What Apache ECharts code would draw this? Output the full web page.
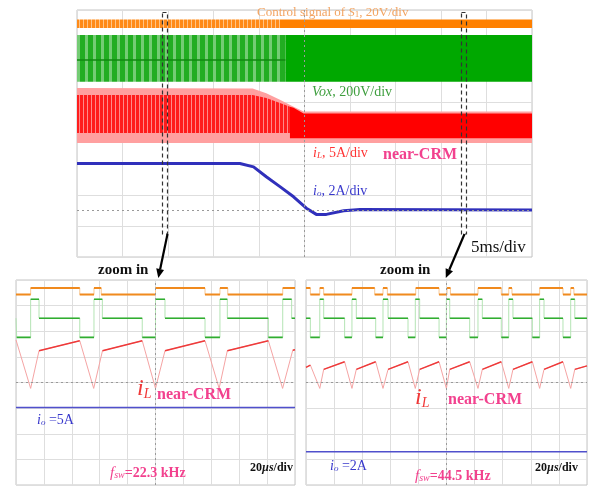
<!DOCTYPE html>
<html><head><meta charset="utf-8">
<script src="https://cdn.jsdelivr.net/npm/echarts@6/dist/echarts.min.js"></script>
<style>html,body{margin:0;padding:0;background:#fff}#c{width:589px;height:486px}</style>
</head><body><div id="c"></div>
<script>
// ===== Top scope: x in ms (5 ms/div), y in divisions =====
const orangeStripT = [0, 22.3], orangeStripHi = [7.69, 7.69], orangeStripLo = [7.42, 7.42];
const orangeSolidT = [22.3, 50], orangeSolidHi = [7.69, 7.69], orangeSolidLo = [7.42, 7.42];
const greenStripT = [0, 22.9], greenStripHi = [7.19, 7.19], greenStripLo = [5.68, 5.68];
const greenSolidT = [22.9, 50], greenSolidHi = [7.19, 7.19], greenSolidLo = [5.68, 5.68];
const greenMidT = [0, 22.9], greenMidV = [6.38, 6.38];
const redOuterT = [0, 19.3, 20.8, 22.3, 23.8, 24.9, 50];
const redOuterHi = [5.47, 5.46, 5.30, 5.09, 4.87, 4.71, 4.71];
const redOuterLo = [3.69, 3.69, 3.69, 3.69, 3.69, 3.69, 3.69];
const redStripT = [0, 19.3, 20.8, 22.3, 23.4];
const redStripHi = [5.25, 5.25, 5.15, 4.99, 4.87];
const redStripLo = [4.02, 4.02, 4.02, 4.02, 4.02];
const redSolidT = [23.4, 23.8, 24.9, 50];
const redSolidHi = [4.87, 4.83, 4.65, 4.65];
const redSolidLo = [3.85, 3.85, 3.85, 3.85];
const ioTopT = [0, 17.9, 19.4, 20.8, 22.3, 23.8, 25.2, 26.3, 27.4, 29.3, 31.1, 50];
const ioTopV = [3.03, 3.03, 2.92, 2.60, 2.28, 1.95, 1.58, 1.38, 1.38, 1.50, 1.54, 1.52];
const topRefLevel = 1.52;

// ===== Bottom-left zoom: x in us (20 us/div), y in divisions =====
const L_OH = 7.69, L_OL = 7.43;              // orange high/low
const G_T = 7.25, G_M = 6.51, G_L = 5.76;    // green levels
const leftOrangeT = [0, 10.5, 45.7, 55.9, 61.1, 100, 135.5, 146.2, 151.8, 191.2, 200];
const leftOrangeV = [L_OL, L_OH, L_OL, L_OH, L_OL, L_OH, L_OL, L_OH, L_OL, L_OH, L_OH];
const leftGreenT = [0, 0.5, 10.5, 16.5, 45.7, 55.9, 61.9, 90.5, 100, 106.8, 135.5, 146.2, 151.5, 180.9, 191.2, 197.6, 200];
const leftGreenV = [G_M, G_L, G_T, G_M, G_L, G_T, G_M, G_L, G_T, G_M, G_L, G_T, G_M, G_L, G_T, G_M, G_M];
const leftRedT = [0, 10.5, 16.5, 45.7, 55.7, 62.0, 90.5, 100, 106.8, 135.5, 145.6, 151.5, 180.9, 191.1, 198.4, 200];
const leftRedV = [5.66, 3.77, 5.24, 5.63, 3.77, 5.24, 5.63, 3.77, 5.24, 5.63, 3.77, 5.24, 5.63, 3.77, 5.26, 5.28];
const leftIoT = [0, 200], leftIoV = [3.02, 3.02];

// ===== Bottom-right zoom =====
const rightOrangeT = [0, 3.1, 9.8, 12.6, 32.7, 48.9, 54.8, 57.9, 78.1, 94.7, 100.4, 102.8, 122.4, 139, 144.3, 146.6, 166.3, 182.9, 188.4, 190.7, 200];
const rightOrangeV = [L_OH, L_OL, L_OH, L_OL, L_OH, L_OL, L_OH, L_OL, L_OH, L_OL, L_OH, L_OL, L_OH, L_OL, L_OH, L_OL, L_OH, L_OL, L_OH, L_OL, L_OL];
const rightGreenT = [0, 3.1, 9.8, 12.6, 27.5, 32.7, 35.8, 49.6, 54.8, 58.4, 72.6, 77.8, 80.9, 94.7, 99.9, 102.3, 116.5, 122.4, 125.5, 139, 144.3, 147.3, 161.1, 166.3, 169.4, 182.9, 188.4, 191.3, 200];
const rightGreenV = [G_M, G_L, G_T, G_M, G_L, G_T, G_M, G_L, G_T, G_M, G_L, G_T, G_M, G_L, G_T, G_M, G_L, G_T, G_M, G_L, G_T, G_M, G_L, G_T, G_M, G_L, G_T, G_M, G_M];
const rightRedT = [0, 3.1, 9.8, 12.6, 27.5, 32.7, 35.8, 49.6, 54.8, 58.4, 72.6, 77.8, 80.9, 94.7, 99.9, 102.3, 116.5, 122.4, 125.5, 139, 144.3, 147.3, 161.1, 166.3, 169.4, 182.9, 188.4, 191.3, 200];
const rightRedV = [4.59, 4.68, 3.77, 4.51, 4.81, 3.77, 4.51, 4.81, 3.77, 4.51, 4.81, 3.77, 4.51, 4.81, 3.77, 4.51, 4.81, 3.77, 4.51, 4.81, 3.77, 4.51, 4.81, 3.77, 4.51, 4.81, 3.77, 4.51, 4.65];
const rightIoT = [0, 200], rightIoV = [1.30, 1.30];

// ===== rendering =====
const SERIF = '"Liberation Serif","DejaVu Serif",serif';
function pat(stripes) {
  const w = stripes.reduce((s, a) => s + a[0], 0);
  const c = document.createElement('canvas'); c.width = w; c.height = 4;
  const g = c.getContext('2d'); let x = 0;
  for (const [n, col] of stripes) { g.fillStyle = col; g.fillRect(x, 0, n, 4); x += n; }
  return { image: c, repeat: 'repeat' };
}
const zip = (T, V) => T.map((t, i) => [t, V[i]]);
function band(T, hi, lo, fill) {
  return { type: 'custom', xAxisIndex: 0, yAxisIndex: 0, silent: true, clip: true,
    data: T.map((t, i) => [t, lo[i], hi[i]]), encode: { x: 0, y: [1, 2] },
    renderItem: (params, api) => {
      if (params.dataIndex !== 0) return null;
      const pts = [];
      for (let i = 0; i < T.length; i++) pts.push(api.coord([T[i], hi[i]]));
      for (let i = T.length - 1; i >= 0; i--) pts.push(api.coord([T[i], lo[i]]));
      return { type: 'polygon', shape: { points: pts }, style: { fill, stroke: null } };
    } };
}
// dark overlay segments drawn as a line series with breaks ('-')
function segLine(gi, segs, color, width) {
  const data = [];
  for (const s of segs) { data.push([s[0], s[1]], [s[2], s[3]], [s[2], '-']); }
  return { type: 'line', xAxisIndex: gi, yAxisIndex: gi, symbol: 'none', silent: true, connectNulls: false,
    lineStyle: { color, width }, data };
}
function stepTrace(gi, T, V, light, dark, w) {
  const segs = [];
  for (let i = 0; i < T.length - 1; i++) segs.push([T[i], V[i], T[i + 1], V[i]]);
  return [
    { type: 'line', xAxisIndex: gi, yAxisIndex: gi, step: 'end', symbol: 'none', silent: true, lineStyle: { color: light, width: 1 }, data: zip(T, V) },
    segLine(gi, segs, dark, w)
  ];
}
function rampTrace(gi, T, V, light, dark) {
  const segs = [];
  for (let i = 0; i < T.length - 1; i++) {
    const s = (V[i + 1] - V[i]) / (T[i + 1] - T[i]);
    if (s >= 0 && s < 0.06) segs.push([T[i], V[i], T[i + 1], V[i + 1]]);
  }
  return [
    { type: 'line', xAxisIndex: gi, yAxisIndex: gi, symbol: 'none', silent: true, lineStyle: { color: light, width: 1 }, data: zip(T, V) },
    segLine(gi, segs, dark, 1.4)
  ];
}
function refLines(gi, xv, yv) {
  return { type: 'line', xAxisIndex: gi, yAxisIndex: gi, z: 1, symbol: 'none', silent: true, data: [],
    markLine: { silent: true, symbol: 'none', animation: false, label: { show: false },
      lineStyle: { type: [2, 3], color: '#999', width: 1 }, data: [{ xAxis: xv }, { yAxis: yv }] } };
}
function axis(gi, max, interval) {
  return { gridIndex: gi, type: 'value', min: 0, max, interval,
    axisLabel: { show: false }, axisTick: { show: false }, axisLine: { show: false },
    splitLine: { show: true, lineStyle: { color: '#dedede', width: 1 } } };
}

const series = [
  refLines(0, 25, topRefLevel),
  band(orangeStripT, orangeStripHi, orangeStripLo, pat([[3, '#ff8a18'], [1, '#ffc486']])),
  band(orangeSolidT, orangeSolidHi, orangeSolidLo, '#ff8000'),
  band(greenStripT, greenStripHi, greenStripLo, pat([[5, '#22ad22'], [3, '#74cc74']])),
  band(greenSolidT, greenSolidHi, greenSolidLo, '#00a800'),
  { type: 'line', xAxisIndex: 0, yAxisIndex: 0, symbol: 'none', silent: true, lineStyle: { color: '#118a11', width: 1.5 }, data: zip(greenMidT, greenMidV) },
  band(redOuterT, redOuterHi, redOuterLo, '#ffa0a0'),
  band(redStripT, redStripHi, redStripLo, pat([[3, '#ff1c1c'], [1, '#ff8a8a']])),
  band(redSolidT, redSolidHi, redSolidLo, '#ff0000'),
  { type: 'line', xAxisIndex: 0, yAxisIndex: 0, symbol: 'none', silent: true, lineStyle: { color: '#3030bb', width: 3 }, data: zip(ioTopT, ioTopV) },

  refLines(1, 100, 4),
  ...stepTrace(1, leftOrangeT, leftOrangeV, '#f9c894', '#f08a1e', 2),
  ...stepTrace(1, leftGreenT, leftGreenV, '#b4e4b4', '#30ad30', 1.6),
  ...rampTrace(1, leftRedT, leftRedV, '#f5a4a4', '#ee3a3a'),
  { type: 'line', xAxisIndex: 1, yAxisIndex: 1, symbol: 'none', silent: true, lineStyle: { color: '#5050cc', width: 1.5 }, data: zip(leftIoT, leftIoV) },

  refLines(2, 100, 4),
  ...stepTrace(2, rightOrangeT, rightOrangeV, '#f9c894', '#f08a1e', 2),
  ...stepTrace(2, rightGreenT, rightGreenV, '#b4e4b4', '#30ad30', 1.6),
  ...rampTrace(2, rightRedT, rightRedV, '#f5a4a4', '#ee3a3a'),
  { type: 'line', xAxisIndex: 2, yAxisIndex: 2, symbol: 'none', silent: true, lineStyle: { color: '#5050cc', width: 1.5 }, data: zip(rightIoT, rightIoV) }
];

function txt(x, y, text, base, rich) {
  return { type: 'text', x, y, z: 100, silent: true,
    style: Object.assign({ text, align: 'left', verticalAlign: 'middle', fontFamily: SERIF, rich: rich || {} }, base) };
}
function sub(size, fill, italic) { return { fontSize: size, fill, fontFamily: SERIF, fontStyle: italic ? 'italic' : 'normal', verticalAlign: 'bottom', lineHeight: size }; }
function tok(size, fill, opts) { return Object.assign({ fontSize: size, fill, fontFamily: SERIF }, opts || {}); }

const ORG = '#f2a462', GRN = '#3e9e3e', RED = '#ff3434', PNK = '#f2418e', BLU = '#3838cc';
function ioLabel(x, y, rest) {
  return txt(x, y, '{i|i}{s|o}{n|' + rest + '}', { fill: BLU, fontSize: 13 },
    { i: tok(14, BLU, { fontStyle: 'italic' }), s: sub(9, BLU, true), n: tok(14, BLU) });
}
function fswLabel(x, y, val) {
  return txt(x, y, '{i|f}{s|sw}{n|=' + val + '}', { fill: PNK, fontSize: 14 },
    { i: tok(15, PNK, { fontStyle: 'italic' }), s: sub(10, PNK, true), n: tok(14, PNK, { fontWeight: 'bold' }) });
}
function iLBig(x, y) {
  return txt(x, y, '{i|i}{s|L}', { fill: '#f03838', fontSize: 22 },
    { i: tok(24, '#f03838', { fontStyle: 'italic' }), s: sub(14, '#f03838', true) });
}
function divLabel(x, y) {
  return txt(x, y, '{n|20}{u|\u00b5s}{n|/div}', { fill: '#111', fontSize: 12 },
    { n: tok(12, '#111', { fontWeight: 'bold' }), u: tok(12, '#111', { fontWeight: 'bold', fontStyle: 'italic' }) });
}
function arrow(x1, y1, x2, y2) {
  const dx = x2 - x1, dy = y2 - y1, L = Math.hypot(dx, dy), ux = dx / L, uy = dy / L;
  const bx = x2 - ux * 9, by = y2 - uy * 9;
  return [
    { type: 'line', z: 100, silent: true, shape: { x1, y1, x2: bx, y2: by }, style: { stroke: '#000', lineWidth: 2.2 } },
    { type: 'polygon', z: 100, silent: true, shape: { points: [[x2, y2], [bx - uy * 4, by + ux * 4], [bx + uy * 4, by - ux * 4]] }, style: { fill: '#000' } }
  ];
}
function dashBox(x, y, w, h) {
  return { type: 'rect', z: 99, silent: true, shape: { x, y, width: w, height: h },
    style: { fill: 'none', stroke: '#333', lineWidth: 1.2, lineDash: [4, 3] } };
}

const graphic = [
  dashBox(162.5, 12.5, 5, 221.5),
  dashBox(461.5, 12.5, 5, 221.5),
  ...arrow(167.5, 234, 158.3, 278),
  ...arrow(464.5, 234, 445.8, 278),
  txt(257, 13, '{n|Control signal of }{i|S}{s|1}{n|, 20V/div}', { fill: ORG, fontSize: 13 },
    { n: tok(13, ORG), i: tok(13, ORG, { fontStyle: 'italic' }), s: sub(9, ORG, false) }),
  txt(312, 92, '{i|Vox}{n|, 200V/div}', { fill: GRN, fontSize: 14 },
    { i: tok(14, GRN, { fontStyle: 'italic' }), n: tok(14, GRN) }),
  txt(313, 153, '{i|i}{s|L}{n|, 5A/div}', { fill: RED, fontSize: 14 },
    { i: tok(14, RED, { fontStyle: 'italic' }), s: sub(9, RED, true), n: tok(14, RED) }),
  txt(383, 155, 'near-CRM', { fill: PNK, fontSize: 16, fontWeight: 'bold' }),
  ioLabel(313, 191, ', 2A/div'),
  txt(471, 248, '5ms/div', { fill: '#111', fontSize: 17 }),

  txt(98, 270, 'zoom in', { fill: '#111', fontSize: 15, fontWeight: 'bold' }),
  iLBig(137, 389),
  txt(157, 395, 'near-CRM', { fill: PNK, fontSize: 16, fontWeight: 'bold' }),
  ioLabel(37, 420, ' =5A'),
  fswLabel(110, 473, '22.3 kHz'),
  divLabel(250, 468),

  txt(380, 270, 'zoom in', { fill: '#111', fontSize: 15, fontWeight: 'bold' }),
  iLBig(415, 398),
  txt(448, 400, 'near-CRM', { fill: PNK, fontSize: 16, fontWeight: 'bold' }),
  ioLabel(330, 466, ' =2A'),
  fswLabel(415, 476, '44.5 kHz'),
  divLabel(535, 468)
];

const chart = echarts.init(document.getElementById('c'), null, { renderer: 'canvas' });
chart.setOption({
  animation: false,
  backgroundColor: '#fff',
  grid: [
    { left: 77, top: 10, width: 455, height: 247, show: true, borderColor: '#c4c4c4', borderWidth: 1 },
    { left: 16, top: 280, width: 279, height: 205, show: true, borderColor: '#c4c4c4', borderWidth: 1 },
    { left: 306, top: 280, width: 281, height: 205, show: true, borderColor: '#c4c4c4', borderWidth: 1 }
  ],
  xAxis: [axis(0, 50, 5), axis(1, 200, 20), axis(2, 200, 20)],
  yAxis: [axis(0, 8, 1), axis(1, 8, 1), axis(2, 8, 1)],
  series,
  graphic
});
</script></body></html>
